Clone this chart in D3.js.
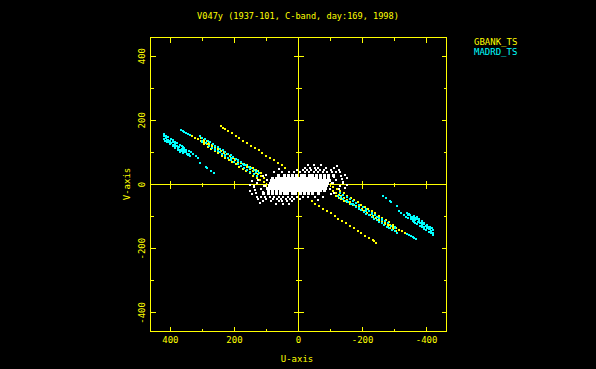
<!DOCTYPE html>
<html><head><meta charset="utf-8">
<script src="https://cdn.jsdelivr.net/npm/d3@7/dist/d3.min.js"></script>
<style>html,body{margin:0;padding:0;background:#000;}svg{display:block;}</style>
</head><body>
<script>
const titleText = "V047y (1937-101, C-band, day:169, 1998)";
const legendNames = ["GBANK_TS", "MADRD_TS"];
const legendColors = ["#ffff00", "#00ffff"];
const majorTicks = [400, 200, 0, -200, -400];
const tickLabels = ["400", "200", "0", "-200", "-400"];
const minorTicks = [300, 100, -100, -300];
const xLabel = "U-axis", yLabel = "V-axis";

// GBANK_TS baseline (one half; conjugate points are plotted too)
const gbankD = [[243,182],[236,177],[231,174],[220,167],[209,160],[196,152],[185,144],[172,137],[160,129],[149,121],[136,113],[124,106],[113,98],[100,90],[88,83],[76,75],[64,67],[52,60],[41,52]];
const gbankB = [[332,151],[323,146],[314,141],[305,137],[296,132],[287,127],[278,122],[269,118],[260,113],[251,108],[242,103],[233,98],[224,94],[215,89],[206,84],[197,79],[188,75],[179,70],[170,65],[161,60],[152,56],[143,51],[134,46],[125,41],[116,36]];
const gbankC2 = [[305,145],[296,139],[287,134],[278,128],[269,122],[260,117],[251,111],[242,105],[233,100],[224,94],[215,88],[206,83],[197,77],[188,71],[179,66],[170,60],[161,54],[152,49],[143,43],[134,37],[125,32],[116,26],[107,20],[98,15]];
const gbankC4 = [[295,125],[284,118],[273,111],[262,104],[251,97],[240,90],[229,83],[218,76],[207,70],[196,63],[185,56],[174,49],[163,42],[152,35],[141,28],[130,21],[119,14],[108,7]];

// MADRD_TS baseline
const madrdA1 = [[420,156],[413,152],[406,147],[399,142],[392,138],[385,133],[378,128],[371,123],[364,119],[357,114],[350,109],[343,105],[336,100]];
const madrdA2 = [[421,150],[414,145],[407,140],[400,135],[393,131],[386,126],[379,121],[372,116],[365,112],[358,107],[351,102],[342,96]];
const madrdA3 = [[419,143],[412,138],[405,133],[398,128],[391,124],[384,119],[377,114],[370,109],[363,104],[356,100],[348,94]];
const madrdA4 = [[417,137],[409,131],[401,125],[393,120],[385,114],[377,108],[369,102],[361,97]];
const madrdAScatter = [[361,116],[345,91],[338,88],[330,96],[321,88],[315,82],[308,66],[289,54],[287,51],[274,42],[265,37]];
const madrdB = [[368,170],[362,167],[356,164],[350,160],[344,157],[338,154]];
const madrdB2 = [[300,131],[280,120],[262,111],[245,102],[228,93],[210,83],[190,73],[170,62],[150,52],[130,41]];
const madrdC1 = [[308,151],[300,146],[292,141],[284,136],[276,131],[268,126],[260,121],[252,116],[244,111],[236,106],[228,101],[220,96],[212,91],[204,86],[196,80],[188,75],[180,70],[172,65],[164,60],[156,55],[148,50],[140,45],[132,40],[124,35]];
const madrdC3 = [[300,134],[290,128],[280,121],[270,115],[260,109],[250,103],[240,96],[230,90],[220,84],[210,77],[200,71],[190,65],[180,58],[170,52],[160,46],[150,40],[140,33],[130,27]];

// short baselines (white cloud), one half: dense core and ragged outskirts
const shortCore = [
 [88,2],[79,2],[70,2],[61,2],[52,2],[43,2],[34,2],[25,2],[16,2],[7,2],[-2,2],[-11,2],[-20,2],[-29,2],[-38,2],[-47,2],[-56,2],[-65,2],[-74,2],[-83,2],[-92,2],
 [84,11],[75,11],[66,11],[57,11],[48,11],[39,11],[30,11],[21,11],[12,11],[3,11],[-6,11],[-15,11],[-24,11],[-33,11],[-42,11],[-51,11],[-60,11],[-69,11],[-78,11],[-87,11],[-96,11],
 [80,20],[70,20],[61,20],[52,20],[43,20],[34,20],[25,20],[16,20],[7,20],[-2,20],[-11,20],[-20,20],[-29,20],[-38,20],[-47,20],[-56,20],[-68,20],[-80,20],[-93,20],
 [62,29],[45,29],[32,29],[18,29],[5,29],[-8,29],[-20,29],[-35,29],[-45,29],[-55,29],[-70,29],[-80,29],[-95,29],[-110,29]
];
const shortOuter = [
 [50,38],[30,38],[15,38],[-5,38],[-20,38],[-32,38],[-48,38],[-60,38],[-75,38],[-90,38],[-105,38],[-118,38],[-130,38],
 [5,45],[-15,45],[-28,45],[-40,45],[-55,45],[-68,45],[-80,45],[-100,45],[-125,45],
 [-20,52],[-35,52],[-50,52],[-62,52],[-85,52],[-112,52],
 [-30,60],[-48,60],[-70,60],[-120,57],
 [-108,6],[-118,14],[-140,8],[-150,0],[-135,18],[-145,-10],[-125,-15],[130,5],[140,-5],[-145,30],[-150,20],[-132,28],
 [75,38],[60,47],[100,30],[112,25],[98,15],[105,-5],[95,-28],[110,-22]
];

const W = 596, H = 369;
const svg = d3.select("body").append("svg").attr("width", W).attr("height", H)
  .style("background", "#000").attr("shape-rendering", "crispEdges");
const font = "'DejaVu Sans Mono', monospace";
const YEL = "#ffff00";

const x = d3.scaleLinear().domain([462, -462]).range([150.5, 446.5]);
const y = d3.scaleLinear().domain([458, -458]).range([37.5, 331.5]);
const x0 = x(0), y0 = y(0);

svg.append("text").attr("x", 298).attr("y", 16).attr("text-anchor", "middle")
  .attr("dominant-baseline", "central").attr("fill", YEL)
  .style("font-family", font).style("font-size", "8.6px").text(titleText);

legendNames.forEach((n, i) => {
  svg.append("text").attr("x", 474).attr("y", 42 + i * 10).attr("dominant-baseline", "central")
    .attr("fill", legendColors[i]).style("font-family", font).style("font-size", "9px").text(n);
});

const ax = svg.append("g").attr("stroke", YEL).attr("stroke-width", 1).attr("fill", "none");
ax.append("rect").attr("x", x.range()[0]).attr("y", y.range()[0])
  .attr("width", x.range()[1] - x.range()[0]).attr("height", y.range()[1] - y.range()[0]);
ax.append("line").attr("x1", x.range()[0]).attr("x2", x.range()[1]).attr("y1", y0).attr("y2", y0);
ax.append("line").attr("x1", x0).attr("x2", x0).attr("y1", y.range()[0]).attr("y2", y.range()[1]);

const ticks = majorTicks.map(t => ({t, L: 5, c: 4})).concat(minorTicks.map(t => ({t, L: 3, c: 2})));
ticks.forEach(({t, L, c}) => {
  const xp = Math.round(x(t) - 0.5) + 0.5, yp = Math.round(y(t) - 0.5) + 0.5;
  ax.append("line").attr("x1", xp).attr("x2", xp).attr("y1", y.range()[1]).attr("y2", y.range()[1] - L);
  ax.append("line").attr("x1", xp).attr("x2", xp).attr("y1", y.range()[0]).attr("y2", y.range()[0] + L);
  ax.append("line").attr("y1", yp).attr("y2", yp).attr("x1", x.range()[0]).attr("x2", x.range()[0] + L);
  ax.append("line").attr("y1", yp).attr("y2", yp).attr("x1", x.range()[1]).attr("x2", x.range()[1] - L);
  ax.append("line").attr("x1", xp).attr("x2", xp).attr("y1", y0 - c).attr("y2", y0 + c);
  ax.append("line").attr("y1", yp).attr("y2", yp).attr("x1", x0 - (c + 1)).attr("x2", x0 + (c + 1));
});

majorTicks.forEach((t, i) => {
  svg.append("text").attr("x", x(t)).attr("y", 340).attr("text-anchor", "middle")
    .attr("dominant-baseline", "central").attr("fill", YEL)
    .style("font-family", font).style("font-size", "9px").text(tickLabels[i]);
  svg.append("text").attr("transform", `translate(141.5,${y(t)}) rotate(-90)`).attr("text-anchor", "middle")
    .attr("dominant-baseline", "central").attr("fill", YEL)
    .style("font-family", font).style("font-size", "9px").text(tickLabels[i]);
});
svg.append("text").attr("x", 297).attr("y", 359).attr("text-anchor", "middle")
  .attr("dominant-baseline", "central").attr("fill", YEL)
  .style("font-family", font).style("font-size", "9px").text(xLabel);
svg.append("text").attr("transform", `translate(127,184) rotate(-90)`).attr("text-anchor", "middle")
  .attr("dominant-baseline", "central").attr("fill", YEL)
  .style("font-family", font).style("font-size", "9px").text(yLabel);

function plot(data, color, s) {
  const pts = data.flatMap(([u, v]) => [[u, v], [-u, -v]]);
  svg.append("g").selectAll("rect").data(pts).enter().append("rect")
    .attr("x", d => Math.round(x(d[0]) - s / 2)).attr("y", d => Math.round(y(d[1]) - s / 2))
    .attr("width", s).attr("height", s).attr("fill", color);
}
plot([].concat(gbankD, gbankB, gbankC2, gbankC4), legendColors[0], 2);
plot([].concat(madrdA1, madrdA2, madrdA3, madrdA4, madrdAScatter, madrdB, madrdB2, madrdC1, madrdC3), legendColors[1], 2);
plot(shortCore, "#ffffff", 3);
plot(shortOuter, "#ffffff", 2);
</script>
</body></html>
